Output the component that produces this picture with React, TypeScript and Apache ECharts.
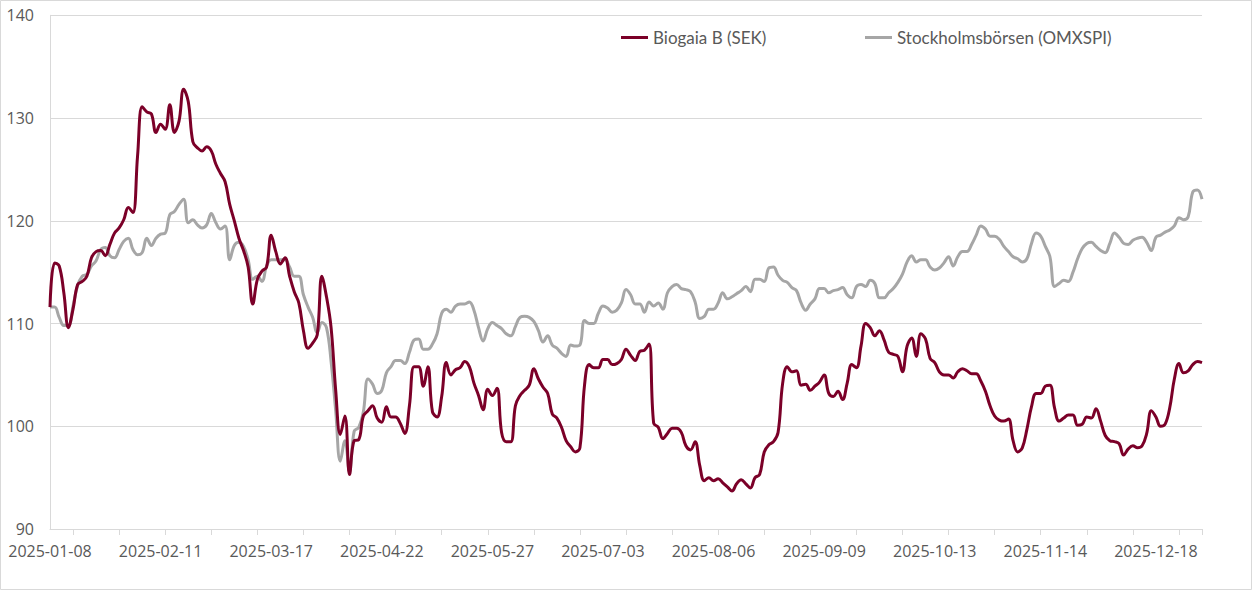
import React, { useEffect, useRef } from "react";
import * as echarts from "echarts";

const START_DATE = "2025-01-08";
const POINT_COUNT = 251;
const HOLIDAYS = [
  "2025-04-18", "2025-04-21", "2025-05-01", "2025-05-29", "2025-06-06", "2025-06-20",
  "2025-12-24", "2025-12-25", "2025-12-26", "2025-12-31", "2026-01-01", "2026-01-06",
];

const BIOGAIA = [
  111.6, 115.9, 115.6, 113.0, 109.6, 111.4, 113.8, 114.1, 114.6, 116.4,
  117.0, 117.1, 116.6, 117.7, 118.8, 119.3, 120.1, 121.3, 120.8, 126.3,
  131.1, 130.6, 130.4, 128.6, 129.4, 128.9, 131.3, 128.6, 129.7, 132.8,
  131.6, 127.7, 127.1, 126.8, 127.2, 126.8, 125.5, 124.6, 123.8, 121.6,
  120.0, 118.3, 117.1, 115.5, 111.9, 114.3, 115.1, 115.5, 118.6, 117.0,
  115.8, 116.4, 114.6, 113.1, 112.0, 109.3, 107.6, 108.1, 108.9, 114.6,
  112.6, 109.6, 103.5, 99.2, 101.0, 95.3, 98.6, 98.7, 101.0, 101.5,
  102.0, 100.8, 100.4, 101.9, 100.9, 100.9, 100.3, 99.3, 102.0, 105.8,
  105.8, 103.9, 105.8, 101.4, 100.9, 102.9, 106.2, 105.0, 105.5, 105.7,
  106.3, 105.8, 104.2, 103.0, 101.6, 103.6, 103.0, 103.7, 99.4, 98.5,
  98.5, 102.0, 103.0, 103.5, 104.0, 105.6, 104.6, 103.8, 103.2, 101.2,
  100.8, 99.9, 98.6, 98.0, 97.5, 97.9, 104.0, 106.0, 105.7, 105.7,
  106.5, 106.5, 106.0, 106.1, 106.5, 107.5, 106.9, 106.4, 107.3, 107.4,
  108.0, 100.3, 99.9, 98.8, 99.3, 99.8, 99.8, 99.4, 98.1, 97.7,
  98.5, 96.2, 94.7, 95.0, 94.7, 94.9, 94.5, 94.1, 93.7, 94.4,
  94.8, 94.4, 94.0, 95.0, 95.3, 97.5, 98.2, 98.5, 99.4, 104.2,
  105.8, 105.3, 105.4, 104.0, 104.1, 103.5, 103.9, 104.3, 105.0, 103.2,
  102.9, 103.4, 102.6, 104.2, 106.0, 105.7, 107.8, 110.0, 109.6, 108.8,
  109.3, 108.4, 107.2, 107.0, 106.8, 105.3, 107.8, 108.6, 106.8, 109.0,
  108.5, 106.6, 106.2, 105.3, 105.0, 105.0, 104.7, 105.3, 105.6, 105.4,
  105.1, 105.1, 104.4, 103.4, 102.0, 101.0, 100.6, 100.5, 100.7, 98.6,
  97.5, 97.9, 99.7, 101.9, 103.2, 103.2, 103.9, 104.0, 101.8, 100.5,
  100.8, 101.1, 101.1, 100.1, 100.2, 100.9, 100.8, 101.7, 100.5, 99.1,
  98.6, 98.5, 98.3, 97.2, 97.8, 98.1, 97.9, 98.1, 99.3, 101.5,
  100.9, 100.0, 100.2, 101.8, 104.6, 106.1, 105.2, 105.4, 106.0, 106.3,
  106.2,
];

const OMXSPI = [
  111.6, 111.6, 110.6, 109.8, 109.8, 111.7, 113.7, 114.6, 114.8, 115.6,
  116.1, 117.2, 117.4, 116.6, 116.4, 117.2, 118.0, 118.3, 117.2, 116.7,
  116.9, 118.3, 117.6, 118.3, 118.7, 118.8, 120.6, 120.9, 121.6, 122.1,
  119.8, 120.1, 119.6, 119.3, 119.6, 120.7, 119.8, 119.2, 119.5, 116.2,
  117.6, 117.9, 117.5, 116.2, 114.3, 114.6, 114.1, 115.6, 116.2, 116.2,
  116.2, 116.2, 115.5, 114.6, 114.6, 112.8, 111.6, 110.6, 109.1, 110.1,
  109.6, 106.3, 101.5, 96.6, 98.6, 95.6, 99.5, 99.9, 101.4, 104.6,
  104.1, 103.2, 103.5, 105.2, 105.8, 106.4, 106.4, 106.1, 107.2, 108.4,
  108.5, 107.5, 107.5, 108.0, 109.0, 111.0, 111.4, 111.1, 111.7, 111.9,
  111.9, 112.1, 111.3, 109.6, 108.3, 109.5, 110.1, 109.8, 109.5, 109.0,
  108.8, 109.7, 110.6, 110.7, 110.6, 110.2, 109.3, 108.2, 108.8, 107.9,
  107.6, 107.1, 106.8, 107.9, 107.8, 107.9, 110.3, 110.0, 110.0, 111.0,
  111.7, 111.5, 111.1, 111.3, 112.0, 113.3, 112.8, 111.9, 111.9, 111.1,
  112.1, 111.7, 112.0, 111.4, 113.0, 113.6, 113.8, 113.4, 113.3, 113.1,
  112.1, 110.5, 110.7, 111.4, 111.4, 112.0, 113.0, 112.4, 112.6, 112.9,
  113.2, 113.6, 113.1, 114.3, 114.3, 114.1, 115.4, 115.5, 114.7, 114.2,
  114.0, 113.5, 113.2, 112.0, 111.3, 111.9, 112.4, 113.4, 113.4, 113.0,
  113.2, 113.3, 113.5, 112.8, 112.5, 113.6, 113.8, 113.6, 114.2, 113.9,
  112.5, 112.5, 113.0, 113.4, 114.0, 114.8, 116.0, 116.6, 116.0, 116.2,
  116.2, 115.5, 115.2, 115.4, 115.9, 116.5, 115.6, 116.5, 117.0, 117.0,
  117.7, 118.6, 119.5, 119.2, 118.5, 118.5, 118.2, 117.5, 117.0, 116.5,
  116.3, 116.0, 116.3, 117.8, 118.8, 118.5, 117.5, 116.5, 113.6, 113.9,
  114.2, 114.1, 115.0, 116.3, 117.3, 117.8, 117.9, 117.5, 117.1, 116.9,
  117.8, 118.8, 118.4, 117.8, 117.7, 118.1, 118.3, 118.4, 117.9, 117.1,
  118.4, 118.6, 118.9, 119.1, 119.5, 120.3, 120.1, 120.4, 122.8, 123.0,
  122.1,
];

const Y_MIN = 90;
const Y_MAX = 140;
const Y_STEP = 10;
const LABEL_EVERY = 24;

function tradingDays(start: string, count: number, holidays: string[]): string[] {
  const out: string[] = [];
  const d = new Date(start + "T00:00:00Z");
  while (out.length < count) {
    const iso = d.toISOString().slice(0, 10);
    const wd = d.getUTCDay();
    if (wd !== 0 && wd !== 6 && holidays.indexOf(iso) < 0) out.push(iso);
    d.setUTCDate(d.getUTCDate() + 1);
  }
  return out;
}

const DATES = tradingDays(START_DATE, POINT_COUNT, HOLIDAYS);

export default function App() {
  const ref = useRef<HTMLDivElement>(null);
  useEffect(() => {
    if (!ref.current) return;
    const chart = echarts.init(ref.current, null, { renderer: "svg" });
    const last = DATES.length - 1;
    chart.setOption({
      animation: false,
      backgroundColor: "#ffffff",
      grid: { left: 50, right: 50, top: 15.3, bottom: 61, containLabel: false },
      legend: [
        {
          left: 616,
          top: 24,
          data: ["Biogaia B (SEK)"],
          icon: "rect",
          itemWidth: 27,
          itemHeight: 3,
          itemGap: 0,
          textStyle: { fontFamily: "Lato", fontSize: 17, color: "#595959" },
        },
        {
          left: 860,
          top: 24,
          data: ["Stockholmsbörsen (OMXSPI)"],
          icon: "rect",
          itemWidth: 27,
          itemHeight: 3,
          itemGap: 0,
          textStyle: { fontFamily: "Lato", fontSize: 17, color: "#595959" },
        },
      ],
      xAxis: {
        type: "category",
        data: DATES,
        boundaryGap: false,
        axisLine: { show: true, lineStyle: { color: "#d9d9d9", width: 1 } },
        axisTick: {
          show: true,
          length: 6,
          interval: (i: number) => i % 10 === 5 || i === last,
          lineStyle: { color: "#d9d9d9" },
        },
        axisLabel: {
          interval: (i: number) => i % LABEL_EVERY === 0,
          margin: 14,
          fontFamily: "Open Sans",
          fontSize: 16,
          color: "#595959",
          hideOverlap: false,
        },
        splitLine: { show: false },
      },
      yAxis: {
        type: "value",
        min: Y_MIN,
        max: Y_MAX,
        interval: Y_STEP,
        axisLine: { show: true, lineStyle: { color: "#d9d9d9", width: 1 } },
        axisTick: { show: false },
        axisLabel: {
          margin: 16,
          fontFamily: "Open Sans",
          fontSize: 16,
          color: "#595959",
        },
        splitLine: { show: true, lineStyle: { color: "#d9d9d9", width: 1 } },
      },
      graphic: [
        {
          type: "rect",
          shape: { x: 0.5, y: 0.5, width: 1251, height: 589 },
          style: { fill: "none", stroke: "#d9d9d9", lineWidth: 1 },
          silent: true,
        },
      ],
      series: [
        {
          name: "Stockholmsbörsen (OMXSPI)",
          type: "line",
          data: OMXSPI,
          symbol: "none",
          smooth: 0.4,
          lineStyle: { color: "#a6a6a6", width: 3 },
          itemStyle: { color: "#a6a6a6" },
          z: 2,
        },
        {
          name: "Biogaia B (SEK)",
          type: "line",
          data: BIOGAIA,
          symbol: "none",
          smooth: 0.4,
          lineStyle: { color: "#7b0028", width: 3 },
          itemStyle: { color: "#7b0028" },
          z: 3,
        },
      ],
    });
    return () => chart.dispose();
  }, []);
  return (
    <div
      ref={ref}
      style={{ position: "fixed", left: 0, top: 0, width: 1252, height: 590, background: "#fff" }}
    />
  );
}
